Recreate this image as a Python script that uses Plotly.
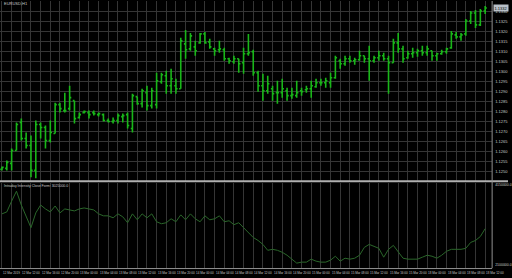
import plotly.graph_objects as go

# ---------------- data (EURUSD, H1) ----------------
opens = [1.12509, 1.12514, 1.12539, 1.12604, 1.12744, 1.12664, 1.12629, 1.12504, 1.12734, 1.12719,
         1.12654, 1.12689, 1.12834, 1.12804, 1.12814, 1.12854, 1.12769, 1.12794, 1.12794, 1.12794,
         1.12784, 1.12784, 1.12754, 1.12749, 1.12754, 1.12774, 1.12784, 1.12714, 1.12874, 1.12839,
         1.12894, 1.12829, 1.12834, 1.12949, 1.12979, 1.12929, 1.12929, 1.12914, 1.13139, 1.13114,
         1.13124, 1.13144, 1.13189, 1.13149, 1.13114, 1.13109, 1.13109, 1.13064, 1.13049, 1.13064,
         1.13044, 1.13089, 1.13099, 1.12994, 1.12929, 1.12904, 1.12914, 1.12894, 1.12894, 1.12904,
         1.12879, 1.12879, 1.12904, 1.12909, 1.12914, 1.12924, 1.12944, 1.12944, 1.12944, 1.12969,
         1.13054, 1.13039, 1.13064, 1.13054, 1.13059, 1.13079, 1.13064, 1.13054, 1.13069, 1.13079,
         1.13064, 1.13044, 1.13144, 1.13114, 1.13069, 1.13089, 1.13094, 1.13104, 1.13094, 1.13104,
         1.13079, 1.13089, 1.13099, 1.13119, 1.13184, 1.13174, 1.13189, 1.13254, 1.13294, 1.13234,
         1.13304]
highs = [1.12524, 1.12554, 1.12614, 1.12744, 1.12764, 1.12694, 1.12679, 1.12754, 1.12744, 1.12729,
         1.12754, 1.12844, 1.12844, 1.12894, 1.12929, 1.12854, 1.12794, 1.12804, 1.12804, 1.12804,
         1.12794, 1.12789, 1.12764, 1.12769, 1.12789, 1.12789, 1.12794, 1.12889, 1.12874, 1.12914,
         1.12929, 1.12919, 1.12994, 1.12994, 1.13004, 1.13014, 1.12964, 1.13169, 1.13209, 1.13194,
         1.13154, 1.13194, 1.13199, 1.13164, 1.13119, 1.13154, 1.13119, 1.13069, 1.13079, 1.13064,
         1.13119, 1.13189, 1.13109, 1.13004, 1.12989, 1.12979, 1.12929, 1.12954, 1.12964, 1.12919,
         1.12919, 1.12954, 1.12919, 1.12929, 1.12954, 1.12964, 1.12964, 1.12969, 1.12994, 1.13079,
         1.13064, 1.13079, 1.13079, 1.13069, 1.13104, 1.13079, 1.13129, 1.13079, 1.13104, 1.13094,
         1.13079, 1.13164, 1.13194, 1.13129, 1.13104, 1.13119, 1.13114, 1.13129, 1.13129, 1.13104,
         1.13094, 1.13109, 1.13119, 1.13204, 1.13199, 1.13194, 1.13264, 1.13304, 1.13309, 1.13314,
         1.13329]
lows = [1.12504, 1.12504, 1.12504, 1.12604, 1.12654, 1.12614, 1.12469, 1.12464, 1.12664, 1.12614,
        1.12644, 1.12689, 1.12794, 1.12794, 1.12804, 1.12739, 1.12764, 1.12789, 1.12764, 1.12779,
        1.12774, 1.12749, 1.12744, 1.12739, 1.12739, 1.12744, 1.12714, 1.12694, 1.12834, 1.12819,
        1.12804, 1.12814, 1.12814, 1.12939, 1.12889, 1.12889, 1.12889, 1.12914, 1.13064, 1.13104,
        1.13079, 1.13139, 1.13139, 1.13114, 1.13079, 1.13094, 1.13054, 1.13039, 1.13039, 1.12994,
        1.12989, 1.13079, 1.12979, 1.12899, 1.12854, 1.12889, 1.12854, 1.12839, 1.12869, 1.12854,
        1.12864, 1.12869, 1.12879, 1.12894, 1.12869, 1.12919, 1.12929, 1.12919, 1.12919, 1.12964,
        1.13014, 1.13029, 1.13044, 1.13034, 1.13054, 1.13044, 1.12954, 1.13044, 1.13054, 1.13054,
        1.12889, 1.13044, 1.13094, 1.13044, 1.13064, 1.13069, 1.13074, 1.13079, 1.13079, 1.13054,
        1.13054, 1.13084, 1.13089, 1.13114, 1.13164, 1.13154, 1.13179, 1.13239, 1.13219, 1.13229,
        1.13289]
closes = [1.12519, 1.12544, 1.12604, 1.12734, 1.12664, 1.12629, 1.12504, 1.12734, 1.12719, 1.12654,
          1.12694, 1.12834, 1.12814, 1.12804, 1.12869, 1.12764, 1.12784, 1.12799, 1.12784, 1.12789,
          1.12789, 1.12754, 1.12749, 1.12754, 1.12779, 1.12779, 1.12729, 1.12879, 1.12839, 1.12904,
          1.12829, 1.12904, 1.12954, 1.12984, 1.12929, 1.12964, 1.12914, 1.13154, 1.13109, 1.13179,
          1.13104, 1.13189, 1.13144, 1.13124, 1.13104, 1.13114, 1.13064, 1.13054, 1.13064, 1.13039,
          1.13089, 1.13094, 1.12994, 1.12929, 1.12904, 1.12939, 1.12889, 1.12894, 1.12914, 1.12879,
          1.12884, 1.12894, 1.12899, 1.12914, 1.12929, 1.12944, 1.12944, 1.12954, 1.12969, 1.13069,
          1.13039, 1.13064, 1.13054, 1.13059, 1.13079, 1.13064, 1.13054, 1.13069, 1.13079, 1.13064,
          1.13044, 1.13144, 1.13114, 1.13064, 1.13089, 1.13094, 1.13104, 1.13094, 1.13114, 1.13079,
          1.13089, 1.13099, 1.13114, 1.13189, 1.13174, 1.13184, 1.13254, 1.13294, 1.13234, 1.13304,
          1.13319]
# Intraday Intensity (close form), in thousands
intensity_k = [3400, 3450, 3725, 3975, 3625, 3325, 3050, 3425, 3625, 3525,
               3450, 3600, 3425, 3525, 3500, 3475, 3525, 3550, 3525, 3500,
               3400, 3350, 3350, 3300, 3400, 3325, 3175, 3400, 3250, 3400,
               3300, 3400, 3200, 3150, 3175, 3275, 3200, 3375, 3250, 3400,
               3275, 3200, 3350, 3250, 3275, 3350, 3200, 3225, 3125, 3175,
               3050, 2925, 2800, 2725, 2625, 2475, 2500, 2475, 2425, 2350,
               2250, 2150, 2175, 2175, 2250, 2200, 2175, 2175, 2225, 2325,
               2200, 2275, 2250, 2275, 2350, 2550, 2625, 2575, 2525, 2300,
               2500, 2600, 2425, 2275, 2250, 2250, 2250, 2300, 2350, 2325,
               2275, 2350, 2450, 2500, 2500, 2500, 2525, 2675, 2725, 2825,
               3025]
time_labels = ["12 Mar 2019", "12 Mar 12:00", "12 Mar 16:00", "12 Mar 20:00", "13 Mar 00:00",
               "13 Mar 04:00", "13 Mar 08:00", "13 Mar 12:00", "13 Mar 16:00", "13 Mar 20:00",
               "14 Mar 00:00", "14 Mar 04:00", "14 Mar 08:00", "14 Mar 12:00", "14 Mar 16:00",
               "14 Mar 20:00", "15 Mar 00:00", "15 Mar 04:00", "15 Mar 08:00", "15 Mar 12:00",
               "15 Mar 16:00", "15 Mar 20:00", "18 Mar 00:00", "18 Mar 04:00", "18 Mar 08:00",
               "18 Mar 12:00"]
label_bars = [0, 4, 8, 12, 16, 20, 24, 28, 32, 36, 40, 44, 48, 52, 56, 60, 64, 68, 72, 76,
              80, 84, 88, 92, 96, 100]
price_ticks = [1.1250, 1.1255, 1.1260, 1.1265, 1.1270, 1.1275, 1.1280, 1.1285, 1.1290,
               1.1295, 1.1300, 1.1305, 1.1310, 1.1315, 1.1320, 1.1325, 1.1330, 1.1335]
ind_ticks_k = [4150, 2100]

bars = list(range(len(opens)))
intensity = [v * 1000 for v in intensity_k]
ind_ticks = [v * 1000 for v in ind_ticks_k]

# ---------------- figure ----------------
W, H = 512, 278
def py(pix):
    return 1 - pix / H

BG = "#000000"
GRID = "#353535"
TXT = "#c8c8c8"
BAR = "#19b619"
IND = "#2a662a"
xr = [-0.41, 101.44]
xdom = [0, 496 / W]
fam = "Liberation Sans"

fig = go.Figure()
fig.add_trace(go.Ohlc(x=bars, open=opens, high=highs, low=lows, close=closes,
                      increasing=dict(line=dict(color=BAR, width=1.6)),
                      decreasing=dict(line=dict(color=BAR, width=1.6)),
                      tickwidth=0.35, xaxis="x", yaxis="y", hoverinfo="skip",
                      showlegend=False))
fig.add_trace(go.Scatter(x=bars, y=intensity, mode="lines",
                         line=dict(color=IND, width=1), xaxis="x2", yaxis="y2",
                         hoverinfo="skip", showlegend=False))

grid_vals = list(range(0, 101, 2))
fig.update_layout(
    width=W, height=H, margin=dict(l=0, r=0, t=0, b=0),
    paper_bgcolor=BG, plot_bgcolor=BG, showlegend=False,
    xaxis=dict(domain=xdom, range=xr, anchor="y", tickvals=grid_vals, showticklabels=False,
               showgrid=True, gridcolor=GRID, gridwidth=1, zeroline=False,
               ticks="", rangeslider=dict(visible=False), fixedrange=True),
    yaxis=dict(domain=[py(181), 1], range=[1.12449, 1.13354], anchor="x", side="right",
               tickvals=price_ticks, ticktext=[f"{v:.4f}" for v in price_ticks],
               tickfont=dict(size=4, color=TXT, family=fam), showgrid=True, gridcolor=GRID,
               zeroline=False, ticks="", ticklabelstandoff=2),
    xaxis2=dict(domain=xdom, range=xr, anchor="y2", matches="x", tickvals=grid_vals,
                showticklabels=False, showgrid=True, gridcolor=GRID,
                zeroline=False, ticks=""),
    yaxis2=dict(domain=[py(268), py(183)], range=[2025000, 4175000], anchor="x2", side="right",
                tickvals=ind_ticks, ticktext=[f"{v:.1f}" for v in ind_ticks],
                tickfont=dict(size=3.5, color=TXT, family=fam), showgrid=False,
                zeroline=False, ticks="", ticklabelstandoff=2),
)

annotations = []
for b, t in zip(label_bars, time_labels):
    annotations.append(dict(x=b, y=py(272.5), xref="x2", yref="paper", text=t, showarrow=False,
                            xanchor="left", yanchor="middle", xshift=-1,
                            font=dict(size=3, color=TXT, family=fam)))
annotations.append(dict(x=2 / W, y=py(3), xref="paper", yref="paper", text="EURUSD,H1",
                        showarrow=False, xanchor="left", yanchor="middle",
                        font=dict(size=4, color=TXT, family=fam)))
annotations.append(dict(x=2 / W, y=py(185.5), xref="paper", yref="paper",
                        text=f"Intraday Intensity Close Form: {intensity[-1]:.1f}",
                        showarrow=False, xanchor="left", yanchor="middle",
                        font=dict(size=3.5, color=TXT, family=fam)))
annotations.append(dict(x=497 / W, y=closes[-1], xref="paper", yref="y",
                        text=f"{closes[-1]:.4f}", showarrow=False, xanchor="left",
                        yanchor="middle", bgcolor="#b8c0c8", borderpad=0.5,
                        font=dict(size=4, color="#000000", family=fam)))
fig.update_layout(annotations=annotations)

shapes = [
    dict(type="line", xref="paper", yref="paper", x0=0, x1=1, y0=py(181), y1=py(181),
         line=dict(color="#b0b0b0", width=2)),
    dict(type="line", xref="paper", yref="paper", x0=496 / W, x1=496 / W, y0=py(268), y1=1,
         line=dict(color="#909090", width=1)),
    dict(type="line", xref="paper", yref="paper", x0=0, x1=496 / W, y0=py(268.5), y1=py(268.5),
         line=dict(color="#909090", width=1)),
]
fig.update_layout(shapes=shapes)

fig.write_html("out.html")
